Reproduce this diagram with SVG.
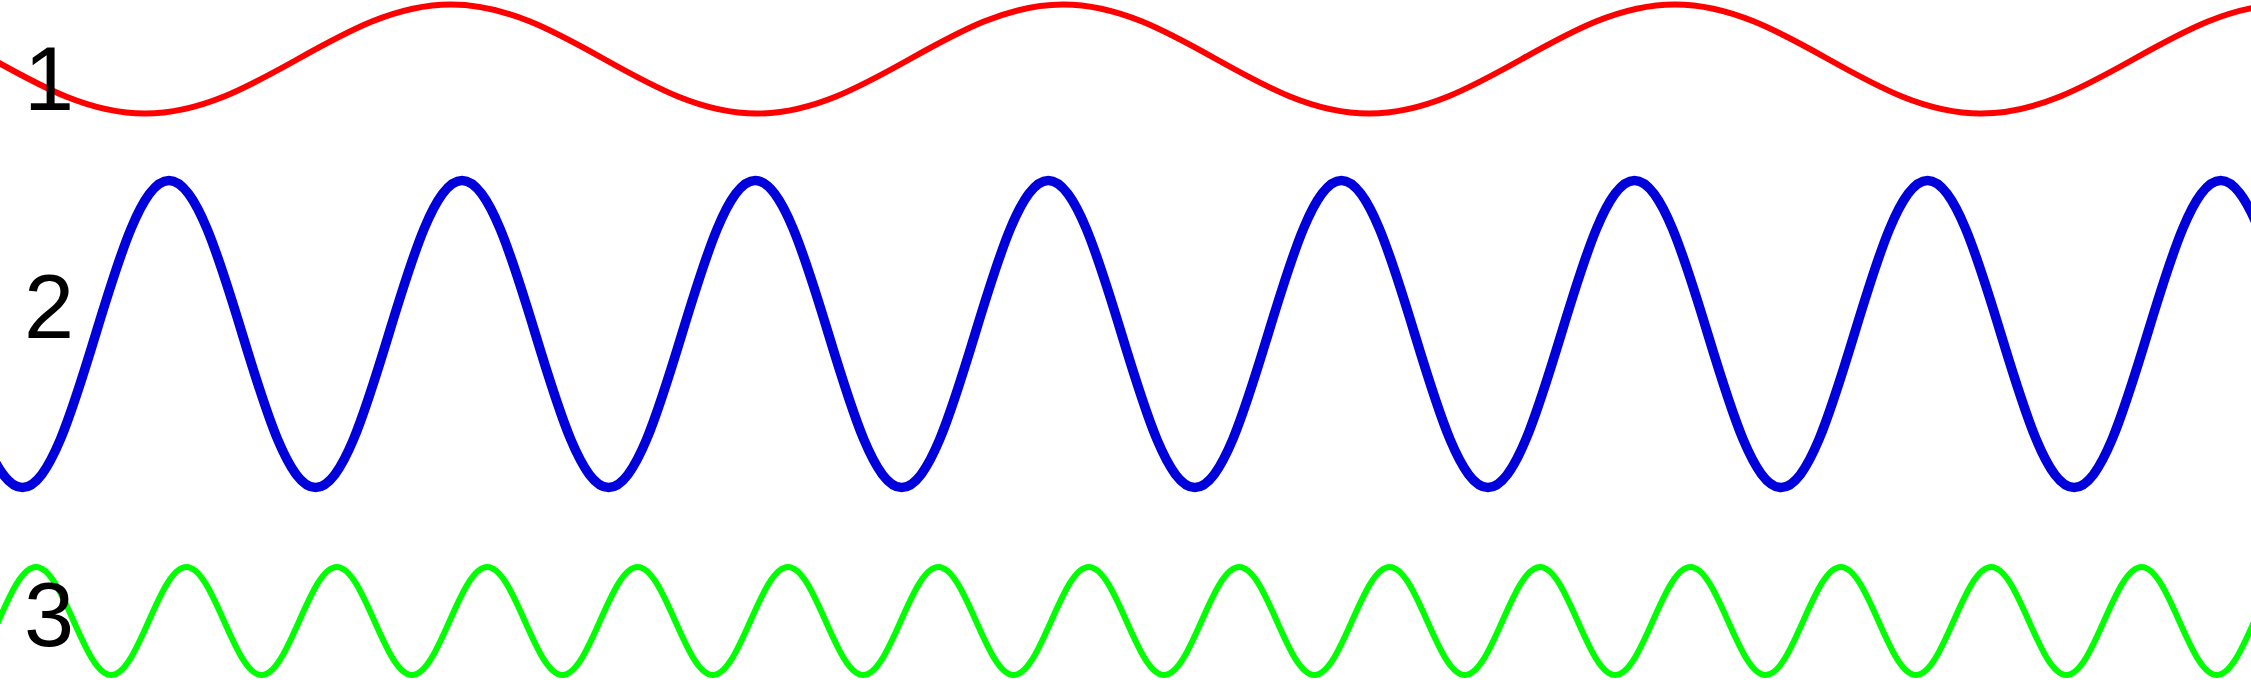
<svg xmlns="http://www.w3.org/2000/svg" width="2251" height="680" viewBox="0 0 2251 680">
<style>
.w{fill:none;stroke-linejoin:round}
.lbl{font-family:"Liberation Sans",Arial,sans-serif;font-size:90px;fill:#000;text-anchor:middle}
</style>
<rect width="2251" height="680" fill="#fff"/>
<g id="waves">
<path id="wave1" class="w" stroke="#ff0000" stroke-width="6" d="M-161,4.5 C-49.8,4.5 33.8,113.5 145,113.5 S339.8,4.5 451,4.5 S645.8,113.5 757,113.5 S951.8,4.5 1063,4.5 S1257.8,113.5 1369,113.5 S1563.8,4.5 1675,4.5 S1869.8,113.5 1981,113.5 S2175.8,4.5 2287,4.5"/>
<path id="wave2" class="w" stroke="#0000dd" stroke-width="9.5" d="M-124.1,180.5 C-70.84,180.5 -30.81,487.5 22.45,487.5 S115.74,180.5 169,180.5 S262.29,487.5 315.55,487.5 S408.84,180.5 462.1,180.5 S555.39,487.5 608.65,487.5 S701.94,180.5 755.2,180.5 S848.49,487.5 901.75,487.5 S995.04,180.5 1048.3,180.5 S1141.59,487.5 1194.85,487.5 S1288.14,180.5 1341.4,180.5 S1434.69,487.5 1487.95,487.5 S1581.24,180.5 1634.5,180.5 S1727.79,487.5 1781.05,487.5 S1874.34,180.5 1927.6,180.5 S2020.89,487.5 2074.15,487.5 S2167.44,180.5 2220.7,180.5 S2313.99,487.5 2367.25,487.5"/>
<path id="wave3" class="w" stroke="#00ff00" stroke-width="6" d="M-39.2,675 C-11.87,675 8.67,567 36,567 S83.87,675 111.2,675 S159.07,567 186.4,567 S234.27,675 261.6,675 S309.47,567 336.8,567 S384.67,675 412,675 S459.87,567 487.2,567 S535.07,675 562.4,675 S610.27,567 637.6,567 S685.47,675 712.8,675 S760.67,567 788,567 S835.87,675 863.2,675 S911.07,567 938.4,567 S986.27,675 1013.6,675 S1061.47,567 1088.8,567 S1136.67,675 1164,675 S1211.87,567 1239.2,567 S1287.07,675 1314.4,675 S1362.27,567 1389.6,567 S1437.47,675 1464.8,675 S1512.67,567 1540,567 S1587.87,675 1615.2,675 S1663.07,567 1690.4,567 S1738.27,675 1765.6,675 S1813.47,567 1840.8,567 S1888.67,675 1916,675 S1963.87,567 1991.2,567 S2039.07,675 2066.4,675 S2114.27,567 2141.6,567 S2189.47,675 2216.8,675 S2264.67,567 2292,567"/>
</g>
<g id="labels">
<text id="label1" class="lbl" x="49" y="110">1</text>
<text id="label2" class="lbl" x="49" y="338">2</text>
<text id="label3" class="lbl" x="49" y="646">3</text>
</g>
</svg>
